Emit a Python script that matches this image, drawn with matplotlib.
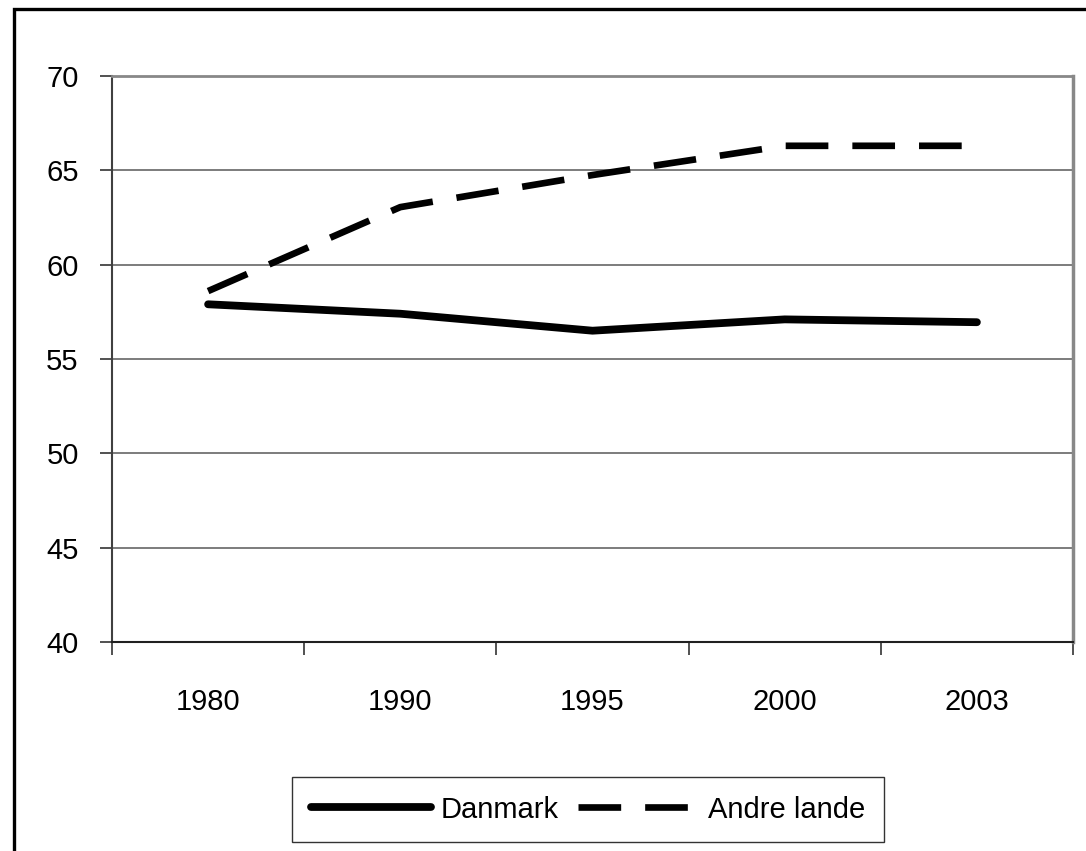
import matplotlib
matplotlib.use('Agg')
import matplotlib.pyplot as plt
from matplotlib.patches import Rectangle

# data
years    = ['1980', '1990', '1995', '2000', '2003']
danmark  = [57.9, 57.4, 56.5, 57.1, 56.95]
andre    = [58.6, 63.05, 64.75, 66.3, 66.3]
y_ticks  = [40, 45, 50, 55, 60, 65, 70]

plt.rcParams['font.family'] = ['Liberation Sans', 'DejaVu Sans']
fs = 21

fig = plt.figure(figsize=(10.86, 8.51), dpi=100)
ax = fig.add_axes([112/1086, 1-642/851, (1073-112)/1086, (642-76)/851])

x = list(range(len(years)))
ax.plot(x, danmark, color='black', lw=5.6, solid_capstyle='round',
        solid_joinstyle='round', label='Danmark')
ax.plot(x, andre, color='black', lw=4.8, dashes=(6.4, 3.6), dash_capstyle='butt',
        label='Andre lande')

ax.set_xlim(-0.5, len(years)-0.5)
ax.set_ylim(40, 70)
ax.set_yticks(y_ticks)
ax.set_xticks(x)
ax.set_xticklabels(years)
ax.set_xticks([i-0.5 for i in range(len(years)+1)], minor=True)
ax.tick_params(axis='x', which='major', length=0, pad=33, labelsize=fs)
ax.tick_params(axis='x', which='minor', length=9, width=1.2, color='#333333', direction='out')
ax.tick_params(axis='y', length=9, width=1.2, color='#333333', direction='out', pad=15, labelsize=fs)

ax.yaxis.grid(True, color='#666666', lw=1.2)
ax.set_axisbelow(True)
ax.spines['left'].set_color('#404040')
ax.spines['left'].set_linewidth(1.5)
ax.spines['bottom'].set_color('#202020')
ax.spines['bottom'].set_linewidth(1.5)
ax.spines['top'].set_color('#888888')
ax.spines['top'].set_linewidth(2)
ax.spines['right'].set_color('#888888')
ax.spines['right'].set_linewidth(2.5)

# outer frame around the chart (cropped at right and bottom)
fig.patches.append(Rectangle((14/1086, -0.1), 1.2, 1-9/851+0.1, transform=fig.transFigure,
                             fill=False, ec='black', lw=2.4))

leg = fig.legend(loc='center', bbox_to_anchor=(588/1086, 1-809.5/851), ncol=2,
                 fontsize=fs, frameon=True, fancybox=False, edgecolor='black',
                 handlelength=4.1, handletextpad=0.35, columnspacing=0.65,
                 borderpad=0.65, borderaxespad=0)
leg.get_frame().set_linewidth(1.0)

fig.savefig('out.png', dpi=100)
